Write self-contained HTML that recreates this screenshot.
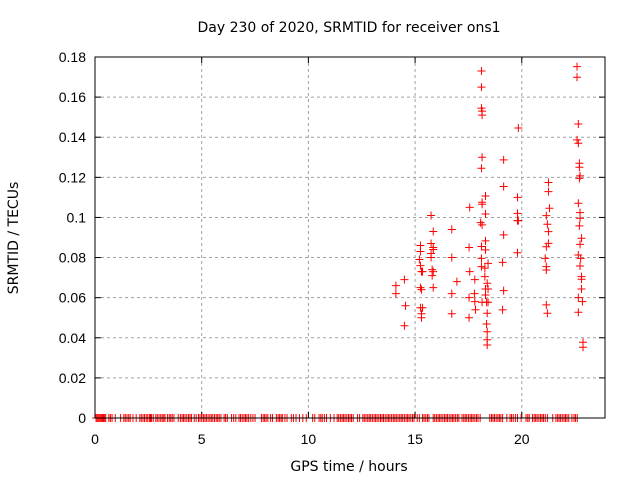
<!DOCTYPE html>
<html><head><meta charset="utf-8"><style>
html,body{margin:0;padding:0;background:#fff;}
svg{display:block;font-family:"Liberation Sans",sans-serif;}
.dj{font-family:"DejaVu Sans","Liberation Sans",sans-serif;}
</style></head><body>
<svg id="chart" width="640" height="480">
<text class="dj" x="349" y="32" font-size="14" text-anchor="middle">Day 230 of 2020, SRMTID for receiver ons1</text>
<text class="dj" x="349" y="471" font-size="14" text-anchor="middle">GPS time / hours</text>
<text class="dj" transform="translate(18,238) rotate(-90)" font-size="14" text-anchor="middle">SRMTID / TECUs</text>
<g id="grid"></g>
<g id="ticks"></g>
<g id="marks"></g>
<rect x="95" y="57" width="510" height="361" fill="none" stroke="#000" stroke-width="1"/>
</svg>
<script>
const xTicks=[0,5,10,15,20];
const yTicks=[0,0.02,0.04,0.06,0.08,0.1,0.12,0.14,0.16,0.18];
const yTickLabels=["0","0.02","0.04","0.06","0.08","0.1","0.12","0.14","0.16","0.18"];
const zeroHours=[0.05,0.1,0.15,0.2,0.25,0.3,0.35,0.4,0.45,0.5,0.65,0.72,0.8,0.95,1.2,1.35,1.42,1.5,1.58,1.65,1.78,1.93,2.1,2.17,2.25,2.32,2.4,2.47,2.55,2.6,2.65,2.73,2.85,2.92,3.0,3.08,3.15,3.22,3.28,3.4,3.48,3.55,3.62,3.7,3.9,4.0,4.08,4.15,4.22,4.3,4.38,4.45,4.52,4.65,4.74,4.85,4.92,5.0,5.08,5.15,5.22,5.3,5.38,5.45,5.52,5.6,5.68,5.75,5.82,5.9,6.05,6.12,6.2,6.4,6.5,6.6,6.75,6.82,6.9,6.98,7.05,7.12,7.2,7.3,7.4,7.5,7.8,7.88,7.95,8.02,8.1,8.23,8.32,8.5,8.58,8.65,8.72,8.78,8.9,9.0,9.2,9.3,9.42,9.58,9.74,9.9,10.2,10.3,10.5,10.58,10.65,10.75,10.85,11.03,11.2,11.35,11.42,11.5,11.58,11.65,11.72,11.8,11.88,11.95,12.02,12.1,12.3,12.4,12.55,12.62,12.7,12.78,12.85,12.92,13.0,13.08,13.15,13.22,13.3,13.38,13.45,13.52,13.6,13.68,13.75,13.82,13.9,13.98,14.05,14.12,14.2,14.28,14.35,14.42,14.5,14.58,14.65,14.72,14.8,14.88,14.95,15.1,15.2,15.35,15.42,15.5,15.58,15.65,15.85,15.92,16.0,16.08,16.15,16.22,16.3,16.38,16.45,16.52,16.6,16.68,16.75,16.82,16.9,16.98,17.05,17.2,17.28,17.35,17.42,17.5,17.58,17.65,17.72,17.8,17.88,17.95,18.05,18.5,18.58,18.65,18.72,18.8,18.88,18.95,19.02,19.1,19.3,19.45,19.52,19.6,19.7,19.8,19.97,20.2,20.28,20.35,20.5,20.58,20.65,20.72,20.8,20.88,20.95,21.02,21.1,21.2,21.45,21.6,21.68,21.75,21.82,21.9,21.98,22.05,22.12,22.2,22.35,22.45,22.52,22.6];
const ptHours=[14.1,14.1,14.5,14.55,14.5,
15.25,15.25,15.2,15.25,15.3,15.35,15.25,15.3,15.25,15.35,15.3,15.3,
15.75,15.85,15.75,15.85,15.75,15.85,15.75,15.8,15.85,15.8,15.85,
16.72,16.72,16.72,16.72,16.96,
17.56,17.53,17.56,17.53,17.53,17.8,17.78,17.8,17.83,
18.11,18.11,18.11,18.14,18.14,18.14,18.11,18.3,18.14,18.14,18.3,18.07,18.14,18.3,18.11,18.3,18.11,18.11,18.27,18.42,18.27,18.38,18.3,18.42,18.14,18.35,18.42,18.3,18.38,18.35,18.38,18.38,18.38,
19.15,19.15,19.15,19.1,19.15,19.1,
19.84,19.8,19.8,19.8,19.84,19.8,
21.25,21.25,21.3,21.15,21.2,21.25,21.25,21.15,21.1,21.15,21.15,21.15,21.2,
22.59,22.59,22.65,22.59,22.65,22.7,22.7,22.73,22.7,22.65,22.73,22.73,22.7,22.8,22.73,22.65,22.76,22.73,22.8,22.8,22.8,22.65,22.84,22.65,22.87,22.87];
const ptValues=[0.066,0.062,0.069,0.056,0.046,
0.086,0.083,0.079,0.076,0.073,0.073,0.065,0.064,0.055,0.055,0.052,0.050,
0.101,0.093,0.087,0.085,0.082,0.084,0.080,0.074,0.073,0.071,0.065,
0.094,0.080,0.062,0.052,0.068,
0.105,0.085,0.073,0.060,0.050,0.069,0.062,0.058,0.054,
0.173,0.165,0.1545,0.153,0.151,0.130,0.1245,0.1107,0.1076,0.1066,0.1017,0.0974,0.0963,0.0883,0.0855,0.0838,0.0796,0.0755,0.0747,0.0771,0.0705,0.0672,0.0643,0.0643,0.0577,0.0577,0.0577,0.0613,0.0522,0.0469,0.043,0.039,0.0364,
0.1287,0.1154,0.0913,0.0776,0.0635,0.0539,
0.1446,0.110,0.102,0.0984,0.0984,0.0824,
0.1174,0.1129,0.1046,0.1009,0.0966,0.0929,0.0871,0.0854,0.0796,0.0755,0.0738,0.0564,0.0522,
0.1752,0.1699,0.1466,0.1387,0.137,0.127,0.125,0.1207,0.1195,0.1071,0.1024,0.0996,0.0958,0.0896,0.0866,0.0813,0.0796,0.0758,0.0705,0.0692,0.0643,0.060,0.058,0.0527,0.0378,0.0353];

const X0=95,X1=605,Y0=418,Y1=57,XMAX=23.9,YMAX=0.18;
const sx=h=>X0+h*(X1-X0)/XMAX;
const sy=v=>Y0-v*(Y0-Y1)/YMAX;
const NS="http://www.w3.org/2000/svg";
function mk(tag,attrs,parent){const e=document.createElementNS(NS,tag);for(const k in attrs)e.setAttribute(k,attrs[k]);parent.appendChild(e);return e;}
const grid=document.getElementById('grid'),ticks=document.getElementById('ticks'),marks=document.getElementById('marks');
xTicks.forEach(t=>{
  const x=sx(t);
  if(t>0){const g=mk('line',{x1:x,x2:x,y1:Y1,y2:Y0,stroke:'#a0a0a0','stroke-dasharray':'3,3'},grid);
  
  }
  mk('line',{x1:x,x2:x,y1:Y0,y2:Y0-6,stroke:'#000'},ticks);
  mk('line',{x1:x,x2:x,y1:Y1,y2:Y1+6,stroke:'#000'},ticks);
  const l=mk('text',{x:x,y:Y0+26,'font-size':14,'text-anchor':'middle'},ticks);
  l.textContent=String(t);
  
  
});
yTicks.forEach((t,i)=>{
  const y=sy(t);
  if(t>0){const g=mk('line',{x1:X0,x2:X1,y1:y,y2:y,stroke:'#a0a0a0','stroke-dasharray':'3,3'},grid);
  
  }
  mk('line',{x1:X0,x2:X0+6,y1:y,y2:y,stroke:'#000'},ticks);
  mk('line',{x1:X1,x2:X1-6,y1:y,y2:y,stroke:'#000'},ticks);
  const l=mk('text',{x:X0-9,y:y+5,'font-size':14,'text-anchor':'end'},ticks);
  l.textContent=yTickLabels[i];
  
  
});
function plus(h,v){
  const x=sx(h),y=sy(v);
  const p=mk('path',{d:`M${x-4},${y}h8M${x},${y-4}v8`,stroke:'#ff0000','stroke-width':1,fill:'none'},marks);
  
  
}
zeroHours.forEach(h=>plus(h,0));
ptHours.forEach((h,i)=>plus(h,ptValues[i]));
</script>
</body></html>
